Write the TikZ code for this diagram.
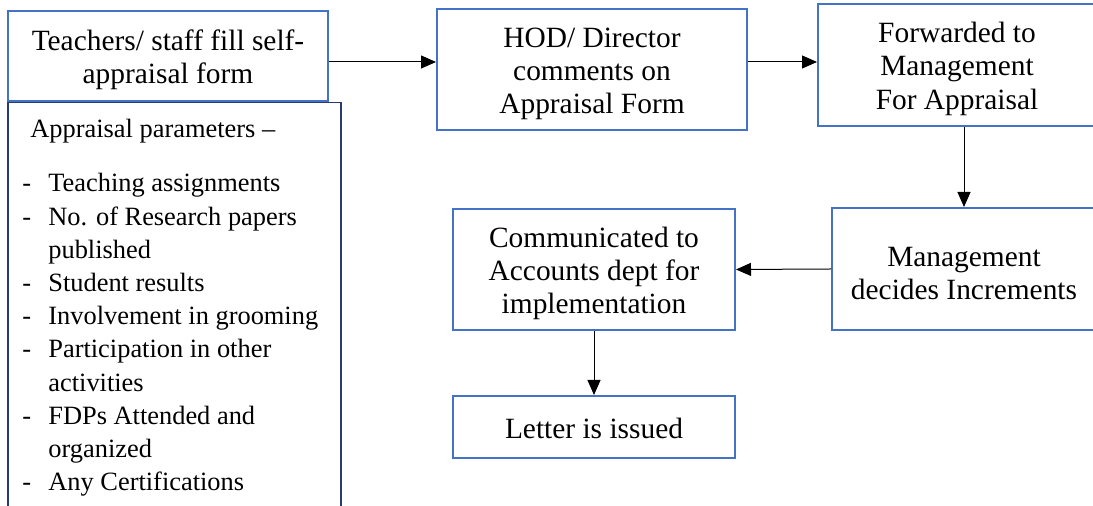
\documentclass[tikz,border=0pt]{standalone}
\usepackage{fontspec}
\setmainfont{Liberation Serif}
\usetikzlibrary{arrows.meta}
\definecolor{boxblue}{RGB}{68,114,196}
\definecolor{listnavy}{RGB}{40,60,115}
\newcommand{\flowfont}{\fontsize{14.7}{16.6}\selectfont}
\newcommand{\listfont}{\fontsize{13.2}{16.6}\selectfont}
\newcommand{\topstrut}[1][14pt]{\rule{0pt}{#1}}

\begin{document}
\begin{tikzpicture}[x=0.5pt,y=-0.5pt,
    box/.style={draw=boxblue,line width=1pt,align=center,inner sep=0pt,font=\flowfont},
    flow/.style={-{Triangle[length=7.5pt,width=6.5pt]},line width=0.5pt}]
  \useasboundingbox (0,0) rectangle (1093,506);
  % Steps of the appraisal
  \node[box,minimum width=160pt,minimum height=45pt] (fill) at (168,56)
    {\topstrut Teachers/ staff fill self-\\appraisal form};
  \node[box,minimum width=155pt,minimum height=60.5pt] (hod) at (592,69.5)
    {\topstrut HOD/ Director\\comments on\\Appraisal Form};
  \node[box,minimum width=139pt,minimum height=61pt] (fwd) at (957,65)
    {\topstrut Forwarded to\\Management\\For Appraisal};
  \node[box,minimum width=132pt,minimum height=61pt] (mgmt) at (964,269)
    {\topstrut Management\\decides Increments};
  \node[box,minimum width=141pt,minimum height=60.5pt] (comm) at (594,269.5)
    {\topstrut Communicated to\\Accounts dept for\\implementation};
  \node[box,minimum width=141pt,minimum height=31pt] (letter) at (594,427)
    {\topstrut[12pt]Letter is issued};
  % Parameters listed under the first step
  \draw[listnavy,line width=0.75pt] (8,520) -- (8,102.5) -- (341,102.5) -- (341,520);
  \node[anchor=base west,inner sep=0pt,font=\listfont] (paramhead) at (30,138)
    {Appraisal parameters –};
  \node[anchor=base west,inner sep=0pt,font=\listfont] (paramlist) at (22,192)
    {\begin{tabular}[t]{@{}p{13pt}@{}l@{}}
      - & Teaching assignments\\
      - & No. of Research papers\\
        & published\\
      - & Student results\\
      - & Involvement in grooming\\
      - & Participation in other\\
        & activities\\
      - & FDPs Attended and\\
        & organized\\
      - & Any Certifications
    \end{tabular}};
  % Arrows
  \coordinate (row) at (0,62);
  \draw[flow] (fill.east |- row) -- (hod.west |- row);
  \draw[flow] (hod.east |- row) -- (fwd.west |- row);
  \draw[flow] (fwd.south -| mgmt.north) -- (mgmt.north);
  \draw[flow] (mgmt.west) -- (comm.east);
  \draw[flow] (comm.south) -- (letter.north);
\end{tikzpicture}
\end{document}
